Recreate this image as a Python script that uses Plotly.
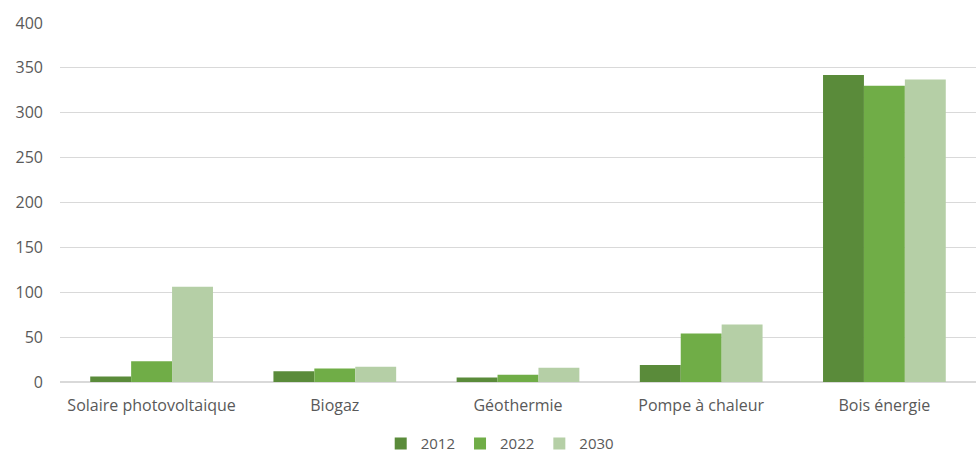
import plotly.graph_objects as go

categories = ["Solaire photovoltaique", "Biogaz", "Géothermie", "Pompe à chaleur", "Bois énergie"]
years = ["2012", "2022", "2030"]
v2012 = [6, 12, 5, 19, 342]
v2022 = [23, 15, 8, 54, 330]
v2030 = [106, 17, 16, 64, 337]
colors = ["#5A8B3A", "#70AD47", "#B5CFA6"]

fig = go.Figure()
for name, vals, c in zip(years, [v2012, v2022, v2030], colors):
    fig.add_trace(go.Bar(x=categories, y=vals, name=name, marker=dict(color=c, line=dict(width=0))))

fig.update_layout(
    width=976, height=456,
    margin=dict(l=60, r=0, t=23, b=74),
    plot_bgcolor="white", paper_bgcolor="white",
    barmode="group", bargap=0.33, bargroupgap=0,
    font=dict(family="Open Sans", size=16, color="#595959"),
    showlegend=True,
    legend=dict(orientation="h", x=0.512, xanchor="center", xref="container",
                y=0.027, yanchor="middle", yref="container",
                bgcolor="rgba(0,0,0,0)",
                font=dict(size=15, color="#595959"), itemwidth=30, traceorder="normal"),
    xaxis=dict(showgrid=False, showline=True, linecolor="#D9D9D9", linewidth=1, ticks="",
               ticklabelstandoff=9,
               automargin=False, tickfont=dict(size=16, color="#595959")),
    yaxis=dict(range=[0, 400], dtick=50, showgrid=True, gridcolor="#D9D9D9", gridwidth=1,
               zeroline=True, zerolinecolor="#D9D9D9", ticks="", ticklabelstandoff=16,
               automargin=False, tickfont=dict(size=16, color="#595959")),
)
fig.write_html("out.html", config={"displayModeBar": False},
               post_script="document.body.style.margin='0';document.body.style.overflow='hidden';")
